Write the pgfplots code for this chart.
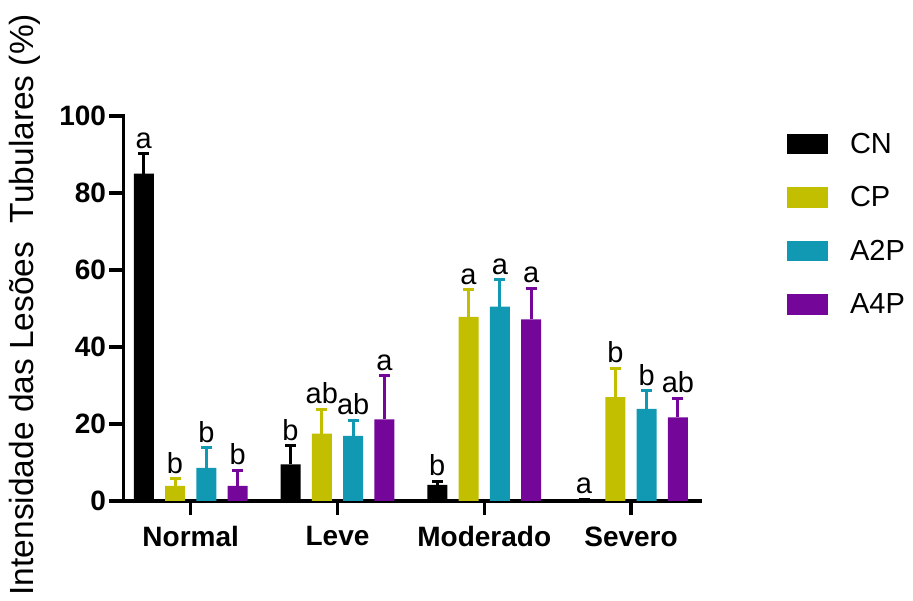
\documentclass[border=0pt]{standalone}
\usepackage{fontspec}
\setmainfont{Liberation Sans}
\usepackage{pgfplots}
\usepackage{pgfplotstable}
\pgfplotsset{compat=1.18}
\definecolor{cCN}{HTML}{000000}
\definecolor{cCP}{HTML}{C2BF00}
\definecolor{cA2}{HTML}{1199B4}
\definecolor{cA4}{HTML}{75069A}

\pgfplotstableread{
x CN CNe CP CPe A2 A2e A4 A4e
0 85.0 5.2 3.9 1.9 8.6 5.3 3.9 4.1
1 9.5 4.9 17.5 6.3 16.9 4.1 21.2 11.3
2 4.2 0.9 47.8 7.1 50.5 7.0 47.2 8.1
3 0.5 0.0 27.0 7.5 23.9 4.7 21.7 5.0
}\data

\pgfplotstableread{
x y lab
-0.320 90.2 a
0.680 14.4 b
1.680 5.1 b
2.680 0.5 a
-0.107 5.8 b
0.893 23.8 ab
1.893 54.9 a
2.893 34.5 b
0.107 13.9 b
1.107 21.0 ab
2.107 57.5 a
3.107 28.6 b
0.320 8.0 b
1.320 32.5 a
2.320 55.3 a
3.320 26.7 ab
}\labs

\pgfplotsset{
  mybar/.style={ybar, bar width=20bp, bar shift=0pt, draw=none, fill=#1,
    legend image code/.code={\fill[##1] (0bp,-10.3bp) rectangle (41bp,10.3bp);},
    error bars/y dir=plus, error bars/y explicit,
    error bars/error bar style={line width=3bp, #1},
    error bars/error mark=-,
    error bars/error mark options={rotate=90, line width=3bp, mark size=5.5bp, #1}},
}

\begin{document}
\begin{tikzpicture}
\path[use as bounding box] (0,0) rectangle (913bp,601bp);
\begin{axis}[
  at={(123.5bp,100bp)}, anchor=south west,
  scale only axis, width=576.5bp, height=385bp,
  xmin=-0.458, xmax=3.47, ymin=0, ymax=100,
  enlargelimits=false,
  axis x line=bottom, axis y line=left,
  axis line style={line width=3.5bp, -, line cap=rect},
  xtick={0,1,2,3}, xticklabels={Normal,Leve,Moderado,Severo},
  ytick={0,20,40,60,80,100},
  tick align=outside, major tick length=14bp,
  tick style={line width=3.5bp, black},
  /pgf/number format/assume math mode=true,
  tick label style={font=\fontsize{28bp}{30bp}\bfseries\selectfont},
  xticklabel style={yshift=-8bp},
  ylabel={Intensidade das Lesões\ \ Tubulares (\%)},
  ylabel style={font=\fontsize{33.5bp}{36bp}\selectfont, at={(axis description cs:-0.171,0.51)}, anchor=center},
  legend style={at={(axis description cs:1.151,0.956)}, anchor=north west, draw=none, fill=none,
    inner sep=0pt, outer sep=0pt, row sep=31.9bp, column sep=22bp,
    nodes={inner sep=0pt}, font=\fontsize{29bp}{31bp}\selectfont},
  legend cell align=left,
  clip=false,
]
\addplot[mybar=cCN] table[x expr=\thisrow{x}-0.320, y=CN, y error=CNe]{\data};
\addplot[mybar=cCP] table[x expr=\thisrow{x}-0.107, y=CP, y error=CPe]{\data};
\addplot[mybar=cA2] table[x expr=\thisrow{x}+0.107, y=A2, y error=A2e]{\data};
\addplot[mybar=cA4] table[x expr=\thisrow{x}+0.320, y=A4, y error=A4e]{\data};
\addplot[draw=none, mark=none, forget plot, nodes near coords, point meta=explicit symbolic,
  every node near coord/.style={anchor=south, inner sep=0pt, yshift=5bp, text=black,
    font=\fontsize{29bp}{31bp}\selectfont}]
  table[x=x, y=y, meta=lab]{\labs};
\legend{CN,CP,A2P,A4P}
\end{axis}
\end{tikzpicture}
\end{document}
